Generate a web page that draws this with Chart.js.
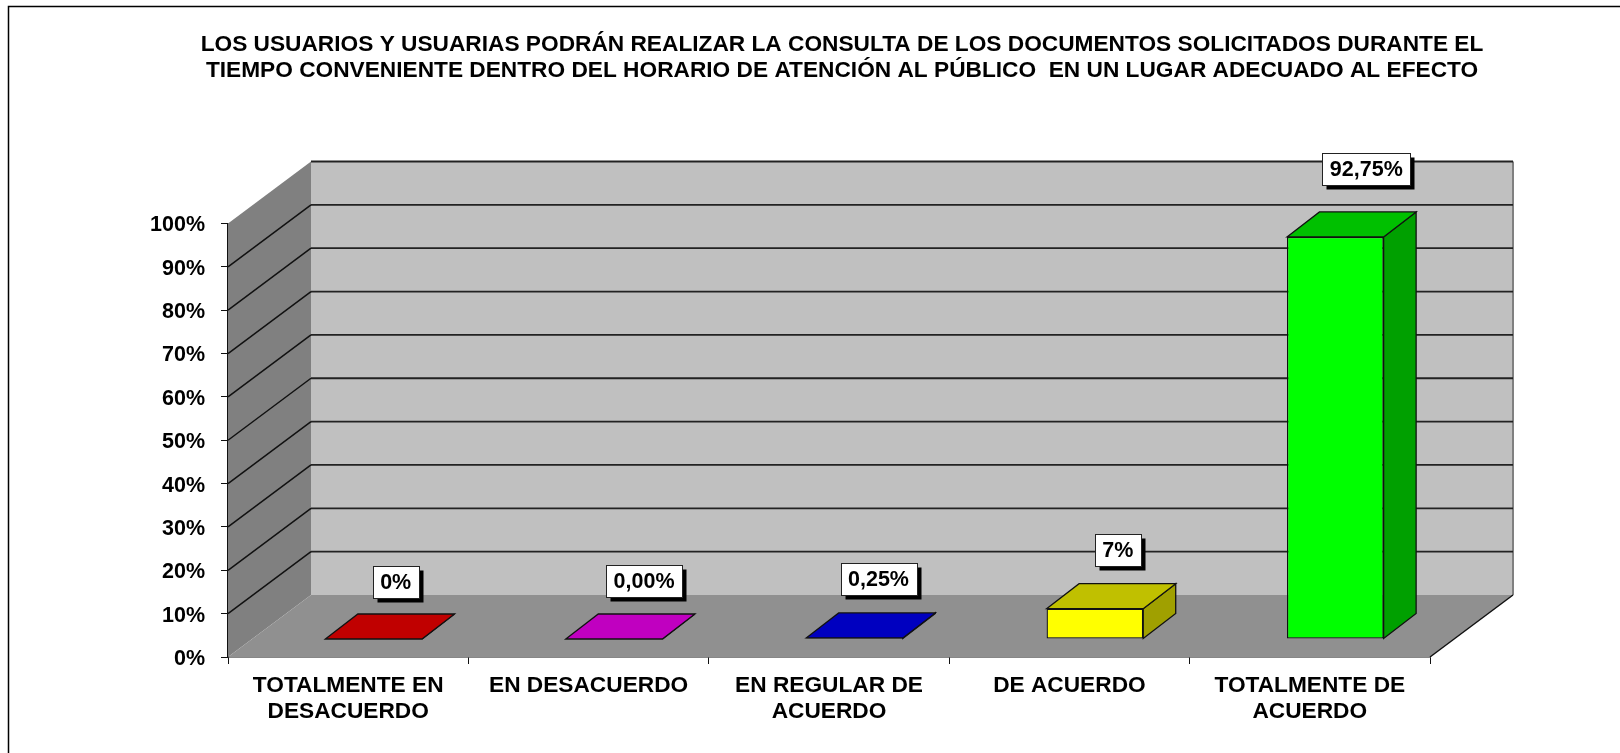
<!DOCTYPE html>
<html>
<head>
<meta charset="utf-8">
<style>
  html, body { margin: 0; padding: 0; background: #fff; }
  #wrap { width: 1620px; height: 753px; }
</style>
</head>
<body>
<div id="wrap"><canvas id="chart" width="1620" height="753"></canvas></div>
<script src="https://cdn.jsdelivr.net/npm/chart.js@4"></script>
<script>
const categories = [
  ["TOTALMENTE EN", "DESACUERDO"],
  "EN DESACUERDO",
  ["EN REGULAR DE", "ACUERDO"],
  "DE ACUERDO",
  ["TOTALMENTE DE", "ACUERDO"],
];
const values = [0, 0, 0.25, 7, 92.75];
const valueLabels = ["0%", "0,00%", "0,25%", "7%", "92,75%"];
const titleLines = [
  "LOS USUARIOS Y USUARIAS PODRÁN REALIZAR LA CONSULTA DE LOS DOCUMENTOS SOLICITADOS DURANTE EL",
  "TIEMPO CONVENIENTE DENTRO DEL HORARIO DE ATENCIÓN AL PÚBLICO  EN UN LUGAR ADECUADO AL EFECTO",
];

const frontColors = ["#ff0000", "#ff00ff", "#0000ff", "#ffff00", "#00ff00"];
const topColors = ["#c00000", "#c000c0", "#0000c0", "#c0c000", "#00c000"];
const sideColors = ["#a00000", "#a000a0", "#0000a0", "#a0a000", "#00a000"];

const FONT = '"Liberation Sans", Arial, sans-serif';
// fondo del gráfico 3D: desplazamiento de la pared trasera
const WALL_DX = 83, WALL_DY = -62;
// las barras van a media profundidad del piso
const BAR_DX = 25.5, BAR_DY = -18;
const DEPTH_DX = 32.5, DEPTH_DY = -25;
// etiquetas: desplazamiento desde el centro del frente de la barra
const labelOffsetsX = [22, 30, 24, 23, 31];
const labelOffsetsY = [-57, -58, -58.5, -59, -67.5];

function poly(ctx, pts, fill, stroke) {
  ctx.beginPath();
  pts.forEach((p, i) => (i ? ctx.lineTo(p[0], p[1]) : ctx.moveTo(p[0], p[1])));
  ctx.closePath();
  if (fill) { ctx.fillStyle = fill; ctx.fill(); }
  if (stroke) { ctx.strokeStyle = stroke; ctx.lineWidth = 1.3; ctx.stroke(); }
}

function line(ctx, x1, y1, x2, y2, color, w) {
  ctx.beginPath();
  ctx.moveTo(x1, y1);
  ctx.lineTo(x2, y2);
  ctx.strokeStyle = color;
  ctx.lineWidth = w;
  ctx.stroke();
}

const walls3d = {
  id: "walls3d",
  afterLayout(chart) {
    // el título va centrado sobre x=842, no sobre el lienzo
    chart.titleBlock.left = 190;
    chart.titleBlock.right = 1494;
  },
  beforeDatasetsDraw(chart) {
    const { ctx, chartArea: a, scales } = chart;
    const y = scales.y;
    ctx.save();
    // marco exterior (sigue fuera de la imagen a la derecha y abajo)
    ctx.strokeStyle = "#000";
    ctx.lineWidth = 1.5;
    ctx.strokeRect(8.5, 6.5, 1700, 800);

    const bx = a.left + WALL_DX, rx = a.right + WALL_DX;
    const top = y.getPixelForValue(100), bot = y.getPixelForValue(0);
    poly(ctx, [[bx, top + WALL_DY], [rx, top + WALL_DY], [rx, bot + WALL_DY], [bx, bot + WALL_DY]], "#c0c0c0");
    poly(ctx, [[a.left, top], [bx, top + WALL_DY], [bx, bot + WALL_DY], [a.left, bot]], "#808080");
    poly(ctx, [[a.left, bot], [bx, bot + WALL_DY], [rx, bot + WALL_DY], [a.right, bot]], "#909090");
    line(ctx, rx, top + WALL_DY, rx, bot + WALL_DY, "#808080", 2);
    line(ctx, a.right, bot, rx, bot + WALL_DY, "#111", 1.5);

    y.ticks.forEach((t) => {
      if (t.value === 0) return;
      const py = y.getPixelForValue(t.value);
      line(ctx, bx, py + WALL_DY, rx, py + WALL_DY, "#222", 1.8);
      if (t.value !== 100) line(ctx, a.left, py, bx, py + WALL_DY, "#111", 1.5);
    });
    ctx.restore();
  },
  beforeDatasetDraw(chart, args) {
    const { ctx } = chart;
    const bars = chart.getDatasetMeta(args.index).data;
    ctx.save();
    ctx.translate(BAR_DX, BAR_DY);
    bars.forEach((b, i) => {
      const l = b.x - b.width / 2, r = b.x + b.width / 2;
      poly(ctx, [[r, b.y], [r + DEPTH_DX, b.y + DEPTH_DY], [r + DEPTH_DX, b.base + DEPTH_DY], [r, b.base]], sideColors[i], "#111");
      poly(ctx, [[l, b.y], [l + DEPTH_DX, b.y + DEPTH_DY], [r + DEPTH_DX, b.y + DEPTH_DY], [r, b.y]], topColors[i], "#111");
    });
    // las barras de chart.js se pintan desplazadas al medio del piso
    ctx.save();
  },
  afterDatasetDraw(chart) {
    const { ctx } = chart;
    ctx.restore();
    ctx.restore();
  },
  afterDatasetsDraw(chart) {
    const { ctx } = chart;
    const bars = chart.getDatasetMeta(0).data;
    ctx.save();
    ctx.font = "bold 21.5px " + FONT;
    ctx.textAlign = "center";
    ctx.textBaseline = "middle";
    bars.forEach((b, i) => {
      const cx = b.x + BAR_DX + labelOffsetsX[i];
      const cy = b.y + BAR_DY + labelOffsetsY[i];
      const w = Math.round(ctx.measureText(valueLabels[i]).width + 15);
      const h = 32;
      const x = Math.round(cx - w / 2) + 0.5, y = Math.round(cy - h / 2) + 0.5;
      ctx.fillStyle = "#000";
      ctx.fillRect(x + 4, y + 4, w, h);
      ctx.fillStyle = "#fff";
      ctx.fillRect(x, y, w, h);
      ctx.strokeStyle = "#222";
      ctx.lineWidth = 1;
      ctx.strokeRect(x, y, w, h);
      ctx.fillStyle = "#000";
      ctx.fillText(valueLabels[i], cx, cy + 1);
    });
    ctx.restore();
  },
};

new Chart(document.getElementById("chart"), {
  type: "bar",
  data: {
    labels: categories,
    datasets: [{
      data: values,
      backgroundColor: frontColors,
      borderColor: "#111",
      borderWidth: 1.3,
      borderSkipped: false,
      barPercentage: 0.402,
      categoryPercentage: 1,
    }],
  },
  options: {
    responsive: false,
    animation: false,
    layout: { autoPadding: false, padding: { left: 0, right: 190, top: 0, bottom: 0 } },
    plugins: {
      legend: { display: false },
      tooltip: { enabled: false },
      title: {
        display: true,
        text: titleLines,
        color: "#000",
        font: { family: FONT, size: 22.7, weight: "bold", lineHeight: 1.17 },
        padding: { top: 31, bottom: 139.4 },
      },
    },
    scales: {
      x: {
        afterFit: (s) => { s.height = 96; },
        border: { color: "#111", width: 1.5 },
        grid: { drawOnChartArea: false, color: "#111", tickLength: 7 },
        ticks: {
          color: "#000",
          maxRotation: 0,
          autoSkip: false,
          padding: 9,
          font: { family: FONT, size: 22.7, weight: "bold", lineHeight: 1.15 },
        },
      },
      y: {
        min: 0,
        max: 100,
        afterFit: (s) => { s.width = 228; },
        border: { color: "#111", width: 1.5 },
        grid: { drawOnChartArea: false, color: "#111", tickLength: 7 },
        ticks: {
          stepSize: 10,
          color: "#000",
          padding: 16,
          labelOffset: 2,
          callback: (v) => v + "%",
          font: { family: FONT, size: 21.5, weight: "bold" },
        },
      },
    },
  },
  plugins: [walls3d],
});
</script>
</body>
</html>
